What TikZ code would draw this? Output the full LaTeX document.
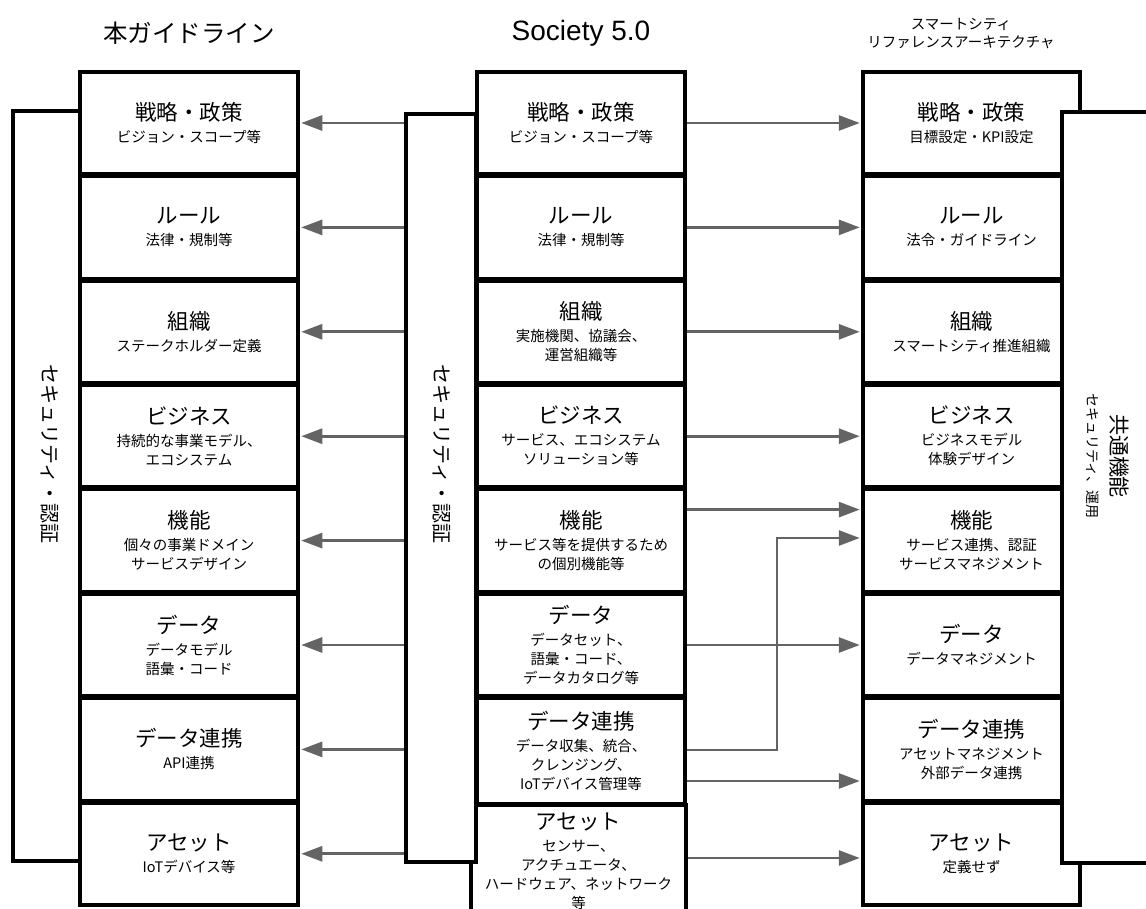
\documentclass[tikz,border=0pt]{standalone}
\usepackage{fontspec}
\setmainfont{Noto Sans CJK JP}
\newfontfamily\latinfont{Liberation Sans}
\usetikzlibrary{arrows.meta}
\definecolor{arrgray}{RGB}{100,100,100}
\newcommand{\bttl}[1]{{\fontsize{21.5}{24}\selectfont #1}\\[3pt]}
\begin{document}
\begin{tikzpicture}[x=1pt,y=-1pt,
  box/.style={draw=black, line width=3.5pt, fill=white, inner sep=0pt, align=center,
    font=\fontsize{14.5}{19}\selectfont},
  lbox/.style={box, minimum width=218pt, minimum height=102pt},
  mbox/.style={box, minimum width=208pt, minimum height=102pt},
  rbox/.style={box, minimum width=217pt, minimum height=102pt},
  bar/.style={draw=black, line width=3.5pt, fill=white, inner sep=0pt},
  bartext/.style={rotate=-90, font=\fontsize{20}{22}\selectfont},
  arr/.style={draw=arrgray, line width=2.8pt, shorten >=1.5pt, -{Triangle[length=21pt,width=15pt]}},
  head/.style={font=\fontsize{24.5}{28}\selectfont},
]
\useasboundingbox (0,0) rectangle (1146,909);
\clip (0,0) rectangle (1146,909);

% headers
\node[head] (h1) at (189,33) {本ガイドライン};
\node[font=\latinfont\fontsize{28}{30}\selectfont] (h2) at (581,33) {Society 5.0};
\node[align=center, font=\fontsize{14.5}{18}\selectfont] (h3) at (961,34) {スマートシティ\\リファレンスアーキテクチャ};

% left bar
\node[bar, minimum width=67pt, minimum height=750pt] (lbar) at (46.5,486) {};

% left column
\node[lbox] (l1) at (189,123.0) {\bttl{戦略・政策}ビジョン・スコープ等};
\node[lbox] (l2) at (189,227.4) {\bttl{ルール}法律・規制等};
\node[lbox] (l3) at (189,331.8) {\bttl{組織}ステークホルダー定義};
\node[lbox] (l4) at (189,436.2) {\bttl{ビジネス}持続的な事業モデル、\\エコシステム};
\node[lbox] (l5) at (189,540.6) {\bttl{機能}個々の事業ドメイン\\サービスデザイン};
\node[lbox] (l6) at (189,645.0) {\bttl{データ}データモデル\\語彙・コード};
\node[lbox] (l7) at (189,749.4) {\bttl{データ連携}API連携};
\node[lbox] (l8) at (189,853.8) {\bttl{アセット}IoTデバイス等};

% middle column
\node[mbox] (m1) at (581,123.0) {\bttl{戦略・政策}ビジョン・スコープ等};
\node[mbox] (m2) at (581,227.4) {\bttl{ルール}法律・規制等};
\node[mbox] (m3) at (581,331.8) {\bttl{組織}実施機関、協議会、\\運営組織等};
\node[mbox] (m4) at (581,436.2) {\bttl{ビジネス}サービス、エコシステム\\ソリューション等};
\node[mbox] (m5) at (581,540.6) {\bttl{機能}サービス等を提供するため\\の個別機能等};
\node[mbox] (m6) at (581,645.0) {\bttl{データ}データセット、\\語彙・コード、\\データカタログ等};
\node[mbox, minimum height=105pt] (m7) at (581,751) {\bttl{データ連携}データ収集、統合、\\クレンジング、\\IoTデバイス管理等};
\node[box, minimum width=215pt, minimum height=112pt] (m8) at (578.5,861) {\bttl{アセット}センサー、\\アクチュエータ、\\ハードウェア、ネットワーク\\等};

% middle bar
\node[bar, minimum width=70pt, minimum height=748pt] (mbar) at (441,488) {};

% right column
\node[rbox] (r1) at (971.5,123.0) {\bttl{戦略・政策}目標設定・KPI設定};
\node[rbox] (r2) at (971.5,227.4) {\bttl{ルール}法令・ガイドライン};
\node[rbox] (r3) at (971.5,331.8) {\bttl{組織}スマートシティ推進組織};
\node[rbox] (r4) at (971.5,436.2) {\bttl{ビジネス}ビジネスモデル\\体験デザイン};
\node[rbox] (r5) at (971.5,540.6) {\bttl{機能}サービス連携、認証\\サービスマネジメント};
\node[rbox] (r6) at (971.5,645.0) {\bttl{データ}データマネジメント};
\node[rbox] (r7) at (971.5,749.4) {\bttl{データ連携}アセットマネジメント\\外部データ連携};
\node[rbox] (r8) at (971.5,853.8) {\bttl{アセット}定義せず};

% right bar
\node[bar, minimum width=110pt, minimum height=751pt] (rbar) at (1117,487.5) {};

% bar texts
\node[bartext] (lbt) at (50,454) {セキュリティ・認証};
\node[bartext] (mbt) at (442,454) {セキュリティ・認証};
\node[rotate=-90, align=center, font=\fontsize{14}{24}\selectfont] (rbt) at (1108,456)
  {{\fontsize{21}{24}\selectfont 共通機能}\\セキュリティ、運用};

% left arrows
\foreach \i in {1,...,8} {
  \draw[arr] (mbar.west |- l\i) -- (l\i.east);
}

% right arrows
\draw[arr] (m1.east) -- (m1.east -| r1.west);
\draw[arr] (m2.east) -- (m2.east -| r2.west);
\draw[arr] (m3.east) -- (m3.east -| r3.west);
\draw[arr] (m4.east) -- (m4.east -| r4.west);
\draw[arr] ([yshift=31pt]m5.east) -- ([yshift=31pt]m5.east -| r5.west);
\draw[arr] (m6.east) -- (m6.east -| r6.west);
\coordinate (elb) at (777,0);
\draw[arr] ([yshift=1pt]m7.east) -- ([yshift=1pt]m7.east -| elb) |- ([yshift=2.6pt]r5.west);
\draw[arr] ([yshift=-30pt]m7.east) -- ([yshift=-30pt]m7.east -| r7.west);
\draw[arr] ([yshift=3pt]m8.east) -- ([yshift=3pt]m8.east -| r8.west);
\end{tikzpicture}
\end{document}
